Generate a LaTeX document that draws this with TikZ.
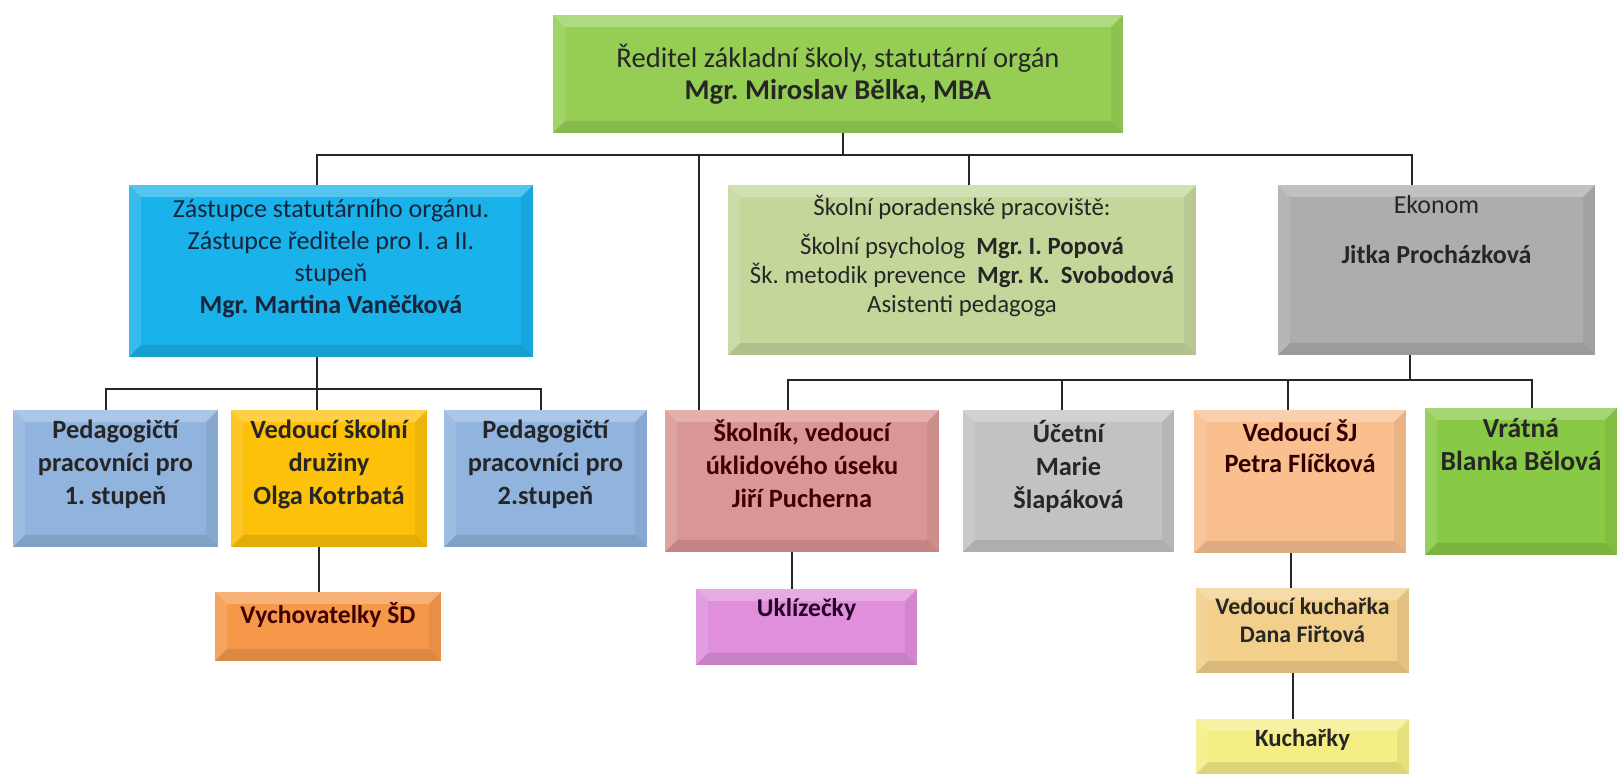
\documentclass[tikz,border=0pt]{standalone}
\usepackage{fontspec}
\setmainfont{Carlito}
\usepackage{tikz}
\usetikzlibrary{calc, positioning}
\frenchspacing

\definecolor{dirgreen}{HTML}{96CE55}
\definecolor{deputyblue}{HTML}{1AB2EA}
\definecolor{sageblock}{HTML}{C4D79B}
\definecolor{darkgrey}{HTML}{ADADAD}
\definecolor{teacherblue}{HTML}{90B4DE}
\definecolor{clubgold}{HTML}{FDC10A}
\definecolor{rosebrown}{HTML}{DA9694}
\definecolor{lightgrey}{HTML}{C2C2C2}
\definecolor{peach}{HTML}{F9BF8F}
\definecolor{portergreen}{HTML}{88C946}
\definecolor{orangebox}{HTML}{F5984A}
\definecolor{orchid}{HTML}{DF8FDC}
\definecolor{sandbox}{HTML}{F2CF8A}
\definecolor{paleyellow}{HTML}{F5EE85}
\definecolor{navytext}{HTML}{17243A}

\tikzset{
  bevel/.style={path picture={
      \path (path picture bounding box.north west) coordinate (bNW)
            (path picture bounding box.north east) coordinate (bNE)
            (path picture bounding box.south west) coordinate (bSW)
            (path picture bounding box.south east) coordinate (bSE);
      \fill[white,opacity=.25] (bNW) -- (bNE) -- ([shift={(-6pt,-6pt)}]bNE) -- ([shift={(6pt,-6pt)}]bNW) -- cycle;
      \fill[white,opacity=.12] (bNW) -- ([shift={(6pt,-6pt)}]bNW) -- ([shift={(6pt,6pt)}]bSW) -- (bSW) -- cycle;
      \fill[black,opacity=.06] (bNE) -- ([shift={(-6pt,-6pt)}]bNE) -- ([shift={(-6pt,6pt)}]bSE) -- (bSE) -- cycle;
      \fill[black,opacity=.10] (bSW) -- ([shift={(6pt,6pt)}]bSW) -- ([shift={(-6pt,6pt)}]bSE) -- (bSE) -- cycle;
  }}
}

\begin{document}
\begin{tikzpicture}[x=0.5pt,y=-0.5pt,
                    box node/.style={rectangle,inner sep=0pt,bevel},
                    box size/.style 2 args={minimum width=#1*0.5pt,minimum height=#2*0.5pt},
                    label text/.style={align=center,inner sep=0pt,text=black!85,
                                       font=\fontsize{13.2}{16.5}\selectfont\bfseries,below=5pt},
                    link/.style={draw=black!85,line width=1pt}]
\useasboundingbox (0,0) rectangle (1617,774);

% first level
\node[box node,box size={570}{118},fill=dirgreen,align=center,text=black!85,
      font=\fontsize{14.3}{16}\selectfont] (Director) at (838,74)
      {Ředitel základní školy, statutární orgán\\\textbf{Mgr. Miroslav Bělka, MBA}};

% second level
\node[box node,box size={404}{172},fill=deputyblue,
      label={[label text,text=navytext,below=7pt,font=\fontsize{13}{16}\selectfont]north:{Zástupce statutárního orgánu.\\Zástupce ředitele pro I. a II.\\stupeň\\\textbf{Mgr. Martina Vaněčková}}}] (Deputy) at (331,271) {};
\node[box node,box size={468}{170},fill=sageblock,
      label={[label text,font=\fontsize{12.4}{14.5}\selectfont]north:{Školní poradenské pracoviště:\\[5pt]
        Školní psycholog \ \textbf{Mgr. I. Popová}\\Šk. metodik prevence \ \textbf{Mgr. K. \ Svobodová}\\Asistenti pedagoga}}] (Counselling) at (962,270) {};
\node[box node,box size={317}{170},fill=darkgrey,
      label={[label text,font=\fontsize{13}{16}\selectfont]north:{Ekonom\\[9pt]\textbf{Jitka Procházková}}}] (Economist) at (1436.5,270) {};

% third level
\node[box node,box size={205}{137},fill=teacherblue,
      label={[label text]north:{Pedagogičtí\\pracovníci pro\\1. stupeň}}] (TeachersI) at (115.5,478.5) {};
\node[box node,box size={196}{137},fill=clubgold,
      label={[label text]north:{Vedoucí školní\\družiny\\Olga Kotrbatá}}] (ClubHead) at (329,478.5) {};
\node[box node,box size={203}{137},fill=teacherblue,
      label={[label text]north:{Pedagogičtí\\pracovníci pro\\2.stupeň}}] (TeachersII) at (545.5,478.5) {};
\node[box node,box size={274}{142},fill=rosebrown,
      label={[label text,text=red!25!black]north:{Školník, vedoucí\\úklidového úseku\\Jiří Pucherna}}] (Caretaker) at (802,481) {};
\node[box node,box size={211}{142},fill=lightgrey,
      label={[label text]north:{Účetní\\Marie\\Šlapáková}}] (Accountant) at (1068.5,481) {};
\node[box node,box size={212}{143},fill=peach,
      label={[label text,text=red!20!black,font=\fontsize{13.2}{15.5}\selectfont\bfseries]north:{Vedoucí ŠJ\\Petra Flíčková}}] (CanteenHead) at (1300,481.5) {};
\node[box node,box size={192}{147},fill=portergreen,
      label={[label text,font=\fontsize{13.8}{16.5}\selectfont\bfseries]north:{Vrátná\\Blanka Bělová}}] (Porter) at (1521,481.5) {};

% fourth level
\node[box node,box size={226}{69},fill=orangebox,
      label={[label text,text=red!25!black,font=\fontsize{12.8}{16}\selectfont\bfseries]north:{Vychovatelky ŠD}}] (Educators) at (328,626.5) {};
\node[box node,box size={221}{76},fill=orchid,
      label={[label text,text=violet!30!black,font=\fontsize{12.8}{16}\selectfont\bfseries]north:{Uklízečky}}] (Cleaners) at (806.5,627) {};
\node[box node,box size={213}{85},fill=sandbox,
      label={[label text,font=\fontsize{11.9}{14}\selectfont\bfseries]north:{Vedoucí kuchařka\\Dana Fiřtová}}] (HeadCook) at (1302.5,630.5) {};
\node[box node,box size={213}{55},fill=paleyellow,
      label={[label text,font=\fontsize{12.4}{16}\selectfont\bfseries]north:{Kuchařky}}] (Cooks) at (1302.5,746.5) {};

% connectors
\foreach \n/\dx in {Deputy/-14,Counselling/7,Economist/-24.5}
  \draw[link] ([shift={(5,0)}]Director.south) -- ++(0,22) -| ([shift={(\dx,0)}]\n.north);
\draw[link] ([shift={(5,0)}]Director.south) -- ++(0,22) -| ([shift={(34,0)}]Caretaker.north west);

\foreach \n/\dx in {TeachersI/-9.5,ClubHead/-12,TeachersII/-4.5}
  \draw[link] ([shift={(-14,0)}]Deputy.south) -- ++(0,32) -| ([shift={(\dx,0)}]\n.north);

\foreach \n/\dx in {Caretaker/-14,Accountant/-6.5,CanteenHead/-12,Porter/11}
  \draw[link] ([shift={(-26.5,0)}]Economist.south) -- ++(0,25) -| ([shift={(\dx,0)}]\n.north);

\draw[link] ([shift={(-10,0)}]ClubHead.south) -- ([shift={(-9,0)}]Educators.north);
\draw[link] ([shift={(-10,0)}]Caretaker.south) -- ([shift={(-14.5,0)}]Cleaners.north);
\draw[link] ([shift={(-9,0)}]CanteenHead.south) -- ([shift={(-11.5,0)}]HeadCook.north);
\draw[link] ([shift={(-9.5,0)}]HeadCook.south) -- ([shift={(-9.5,0)}]Cooks.north);
\end{tikzpicture}
\end{document}
